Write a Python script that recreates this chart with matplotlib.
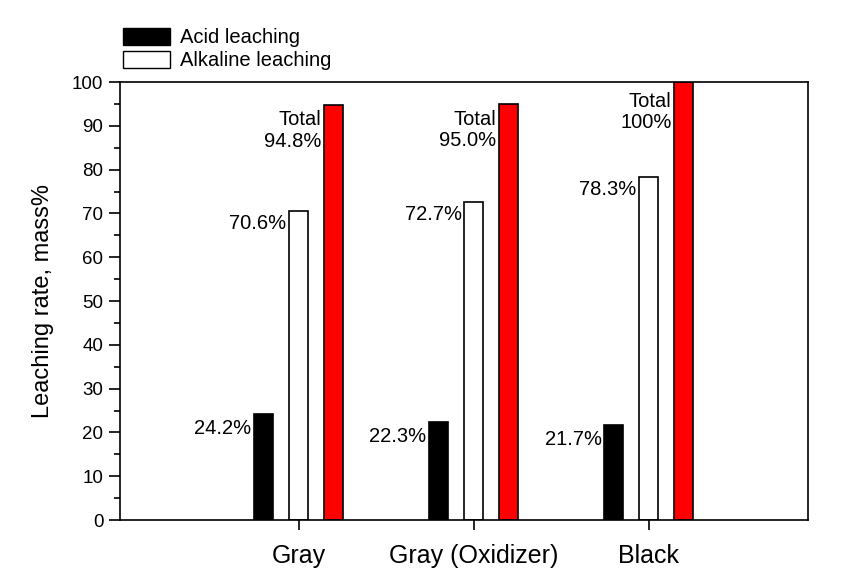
import matplotlib
matplotlib.use("Agg")
import matplotlib.pyplot as plt
import numpy as np
from matplotlib.ticker import MultipleLocator
from matplotlib.patches import Patch

categories = ["Gray", "Gray (Oxidizer)", "Black"]
acid = [24.2, 22.3, 21.7]
alkaline = [70.6, 72.7, 78.3]
total = [94.8, 95.0, 100.0]
acid_labels = ["24.2%", "22.3%", "21.7%"]
alk_labels = ["70.6%", "72.7%", "78.3%"]
total_labels = ["Total\n94.8%", "Total\n95.0%", "Total\n100%"]

plt.rcParams['font.family'] = ['Liberation Sans', 'DejaVu Sans']

fig = plt.figure(figsize=(8.49, 5.88), dpi=100)
ax = fig.add_axes([0.1413, 0.1156, 0.8104, 0.7449])

x = np.arange(1, len(categories) + 1)
w = 0.11
off = 0.2
ax.bar(x - off, acid, w, color='black', edgecolor='black', linewidth=1.2)
ax.bar(x, alkaline, w, color='white', edgecolor='black', linewidth=1.2)
ax.bar(x + off, total, w, color='#ff0000', edgecolor='black', linewidth=1.2)

fs = 14.5
gap = 0.014
for i in range(len(categories)):
    ax.text(x[i] - off - w / 2 - gap, acid[i] - 3.3, acid_labels[i], ha='right', va='center', fontsize=fs)
    ax.text(x[i] - w / 2 - gap, alkaline[i] - 2.9, alk_labels[i], ha='right', va='center', fontsize=fs)
    ax.text(x[i] + off - w / 2 - gap, min(total[i], 99.0) - 1.3, total_labels[i], ha='right', va='top',
            fontsize=fs, linespacing=1.15)

ax.set_xlim(-0.02, 3.91)
ax.set_ylim(0, 100)
ax.set_xticks(x)
ax.set_xticklabels(categories, fontsize=18)
ax.yaxis.set_major_locator(MultipleLocator(10))
ax.yaxis.set_minor_locator(MultipleLocator(5))
ax.tick_params(axis='y', which='major', direction='out', length=8, width=1.2, labelsize=13.5, pad=4)
ax.tick_params(axis='y', which='minor', direction='out', length=4.5, width=1.2)
ax.tick_params(axis='x', direction='out', length=7, width=1.2, pad=10)
ax.set_ylabel("Leaching rate, mass%", fontsize=17, labelpad=13)
for s in ax.spines.values():
    s.set_linewidth(1.2)

handles = [Patch(facecolor='black', edgecolor='black'), Patch(facecolor='white', edgecolor='black')]
fig.legend(handles, ["Acid leaching", "Alkaline leaching"], loc='upper left',
           bbox_to_anchor=(0.135, 0.966), frameon=False, fontsize=14.5,
           handlelength=2.35, handleheight=0.88, labelspacing=0.2, handletextpad=0.5, borderaxespad=0)

fig.savefig("out.png", dpi=100)
